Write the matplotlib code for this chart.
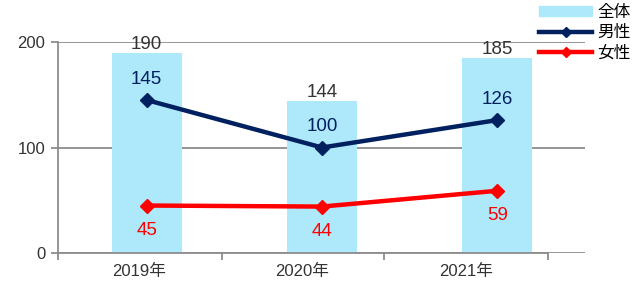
import matplotlib.pyplot as plt
from matplotlib.patches import Patch
from matplotlib.lines import Line2D

plt.rcParams['font.family'] = ['Liberation Sans', 'Noto Sans CJK JP', 'DejaVu Sans']

years = ['2019年', '2020年', '2021年']
total = [190, 144, 185]
male = [145, 100, 126]
female = [45, 44, 59]

bar_color = '#AEE8FB'
male_color = '#002060'
female_color = '#FF0000'
grid_color = '#8C8C8C'
text_color = '#333333'

fig = plt.figure(figsize=(6.4, 2.89), dpi=100)
ax = fig.add_axes([58 / 640, 1 - 253 / 289, 527 / 640, 211 / 289])

x = list(range(len(years)))
ax.bar(x, total, width=0.4, color=bar_color, zorder=1)
ax.plot(x, male, color=male_color, lw=3.2, marker='D', ms=7, zorder=3)
ax.plot(x, female, color=female_color, lw=3.2, marker='D', ms=7, zorder=3)

for xi, v in zip(x, total):
    ax.annotate(str(v), (xi, v), xytext=(0, 0), textcoords='offset points',
                ha='center', va='bottom', fontsize=13.5, color=text_color, zorder=4)
for xi, v in zip(x, male):
    ax.annotate(str(v), (xi, v), xytext=(0, 15), textcoords='offset points',
                ha='center', va='center', fontsize=13.5, color=male_color, zorder=4)
for xi, v in zip(x, female):
    ax.annotate(str(v), (xi, v), xytext=(0, -18), textcoords='offset points',
                ha='center', va='center', fontsize=13.5, color=female_color, zorder=4)

ax.set_xlim(-0.5, 2.5)
ax.set_ylim(0, 200)
ax.set_yticks([0, 100, 200])
ax.yaxis.grid(True, color=grid_color, lw=1.3, zorder=0)
ax.set_axisbelow(True)
ax.tick_params(axis='y', length=5, width=1.3, color=grid_color,
               labelsize=12, labelcolor=text_color, pad=4)

# the category axis in the source is shifted left from the bars
px = 527 / 3
ax.set_xticks([(p - 58) / px - 0.5 for p in (57, 221, 384, 548)])
ax.set_xticklabels([])
ax.set_xticks([(p - 58) / px - 0.5 for p in (138, 302, 466)], minor=True)
ax.set_xticklabels(years, minor=True)
ax.tick_params(axis='x', which='major', length=5, width=1.3, color=grid_color)
ax.tick_params(axis='x', which='minor', length=0, labelsize=12,
               labelcolor=text_color, pad=8)

for side in ('top', 'right'):
    ax.spines[side].set_visible(False)
for side in ('left', 'bottom'):
    ax.spines[side].set_color(grid_color)
    ax.spines[side].set_linewidth(1.3)
ax.spines['bottom'].set_bounds((57 - 58) / px - 0.5, (548 - 58) / px - 0.5)

handles = [
    Patch(color=bar_color),
    Line2D([], [], color=male_color, lw=3.2, marker='D', ms=5),
    Line2D([], [], color=female_color, lw=3.2, marker='D', ms=5),
]
fig.legend(handles, ['全体', '男性', '女性'], loc='upper left',
           bbox_to_anchor=(539 / 640, 1 - 5 / 289), frameon=False,
           fontsize=12, handlelength=3.2, handleheight=0.6, handletextpad=0.3,
           labelspacing=0.3, borderpad=0, borderaxespad=0)

fig.savefig('out.png', dpi=100)
